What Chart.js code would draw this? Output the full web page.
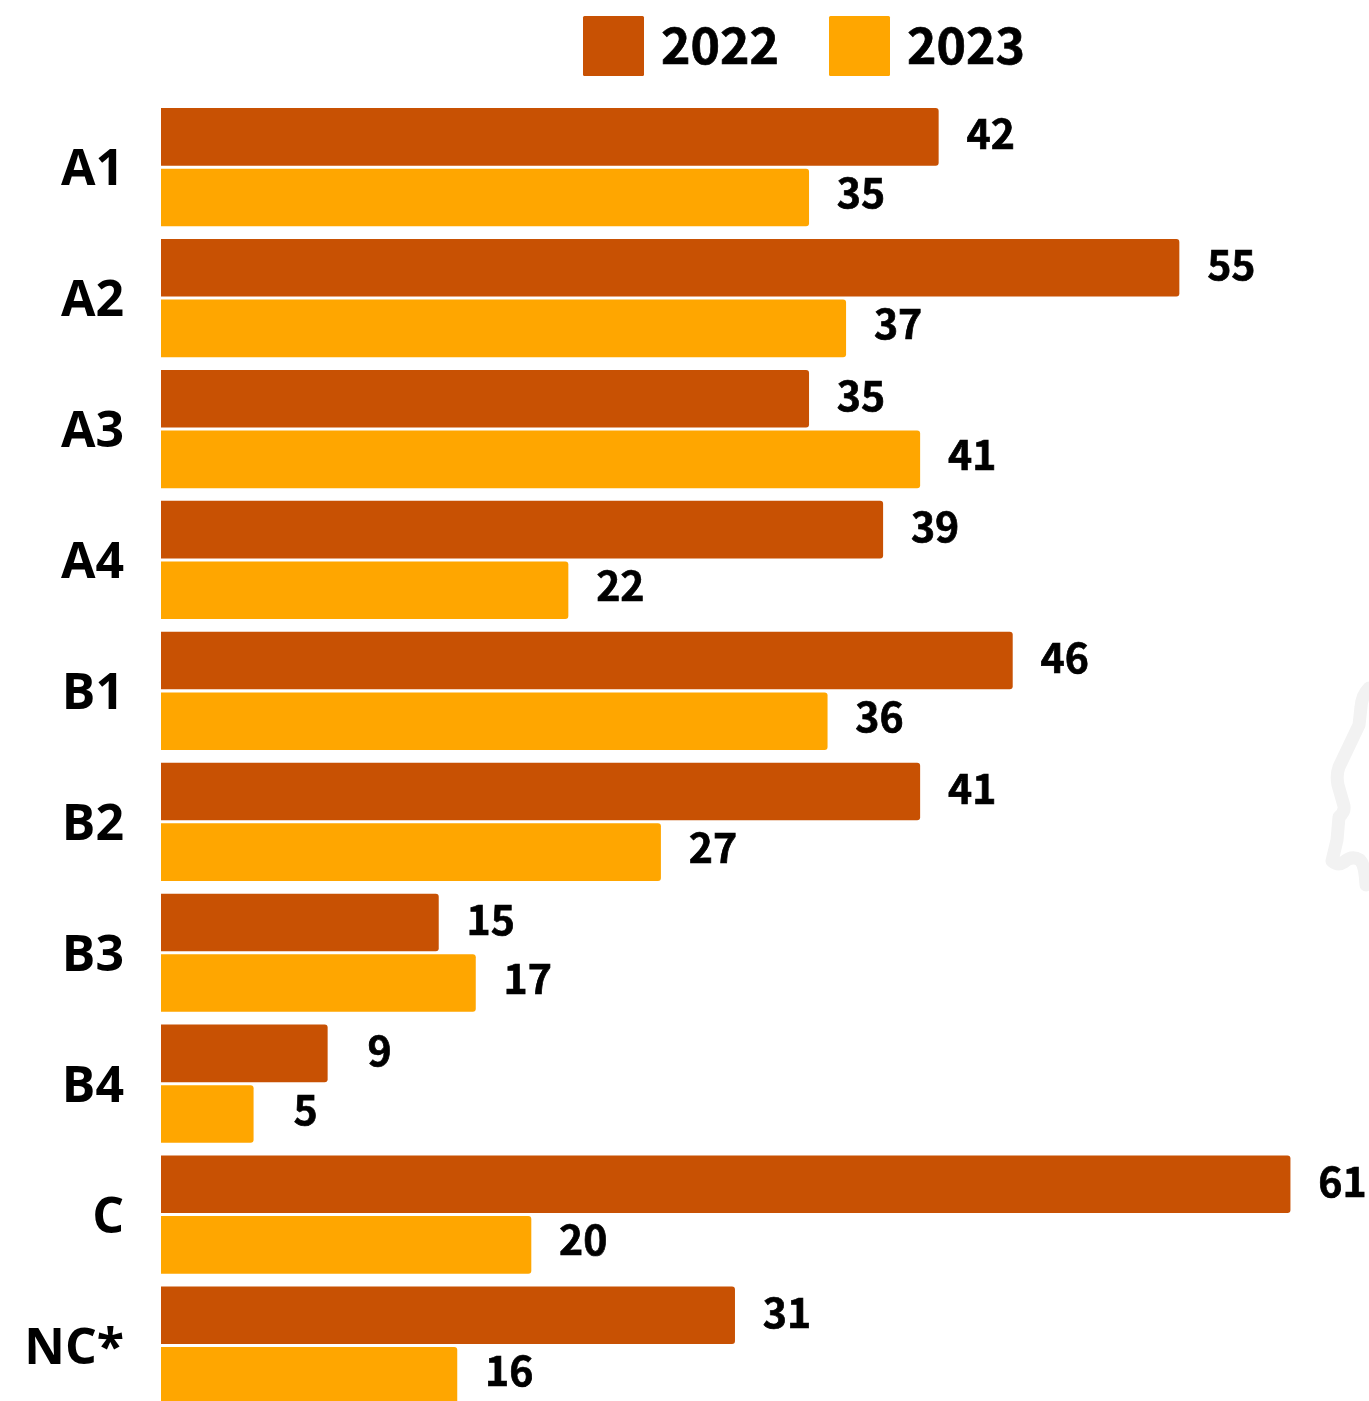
<!DOCTYPE html>
<html><head><meta charset="utf-8">
<style>
html,body{margin:0;padding:0;background:#fff;width:1369px;height:1401px;overflow:hidden}
#wrap{position:relative;width:1369px;height:1401px;overflow:hidden}
#wm{position:absolute;left:0;top:0}
canvas{position:absolute;left:0;top:0}
</style>
<script src="https://cdn.jsdelivr.net/npm/chart.js@4/dist/chart.umd.min.js"></script>
</head><body>
<div id="wrap">
<svg id="wm" width="1369" height="1401"><path d="M1369 688 Q1362 695 1361 707 L1359 725 L1339 767 Q1336 775 1338 785 L1344 806 Q1345 812 1339 817 L1337 840 L1332 861 Q1338 866 1344 862 Q1352 855 1360 860 Q1365 865 1366 885" fill="none" stroke="#f2f2f2" stroke-width="13" stroke-linejoin="round" stroke-linecap="round"/></svg>
<canvas id="c" width="1369" height="1470"></canvas>
</div>
<script>
const categories = ['A1','A2','A3','A4','B1','B2','B3','B4','C','NC*'];
const values2022 = [42,55,35,39,46,41,15,9,61,31];
const values2023 = [35,37,41,22,36,27,17,5,20,16];
const seriesNames = ['2022','2023'];
const seriesColors = ['#C85103','#FFA600'];
const AXIS_FONT = '"Open Sans"';
const LABEL_FONT = '"Noto Sans CJK SC"';

const valueLabels = {
  id:'valueLabels',
  afterDatasetsDraw(chart){
    const {ctx} = chart;
    const dy = [-3,-5];
    ctx.save();
    ctx.font = 'bold 41px '+LABEL_FONT;
    ctx.fillStyle = '#000';
    ctx.strokeStyle = '#000';
    ctx.lineWidth = 0.7;
    ctx.textAlign = 'center';
    ctx.textBaseline = 'middle';
    chart.data.datasets.forEach((ds,i)=>{
      chart.getDatasetMeta(i).data.forEach((bar,j)=>{
        ctx.fillText(String(ds.data[j]), bar.x+52, bar.y+dy[i]);
        ctx.strokeText(String(ds.data[j]), bar.x+52, bar.y+dy[i]);
      });
    });
    ctx.restore();
  }
};
const topLegend = {
  id:'topLegend',
  afterDraw(chart){
    const {ctx} = chart;
    const xs = [583,829];
    ctx.save();
    ctx.font = 'bold 50px '+LABEL_FONT;
    ctx.textAlign = 'left';
    ctx.textBaseline = 'middle';
    ctx.strokeStyle = '#000';
    ctx.lineWidth = 0.7;
    chart.data.datasets.forEach((ds,i)=>{
      ctx.fillStyle = ds.backgroundColor;
      ctx.beginPath();
      ctx.roundRect(xs[i],16,61,60,1.5);
      ctx.fill();
      ctx.fillStyle = '#000';
      ctx.fillText(ds.label, xs[i]+78, 45);
      ctx.strokeText(ds.label, xs[i]+78, 45);
    });
    ctx.restore();
  }
};

new Chart(document.getElementById('c'),{
  type:'bar',
  data:{
    labels:categories,
    datasets:[
      {label:seriesNames[0],data:values2022,backgroundColor:seriesColors[0]},
      {label:seriesNames[1],data:values2023,backgroundColor:seriesColors[1]}
    ]
  },
  options:{
    indexAxis:'y',
    responsive:false,
    animation:false,
    categoryPercentage:0.926,
    barPercentage:0.95,
    borderRadius:3,
    layout:{padding:{top:101.7,right:4.5,bottom:0,left:0}},
    plugins:{legend:{display:false},tooltip:{enabled:false},title:{display:false}},
    scales:{
      x:{display:false,min:0,max:65},
      y:{
        grid:{display:false},
        border:{display:false},
        afterFit(s){s.width=161;},
        ticks:{color:'#000',padding:29,labelOffset:4,font:{family:AXIS_FONT,weight:'bold',size:50}}
      }
    }
  },
  plugins:[valueLabels,topLegend]
});
</script>
</body></html>
